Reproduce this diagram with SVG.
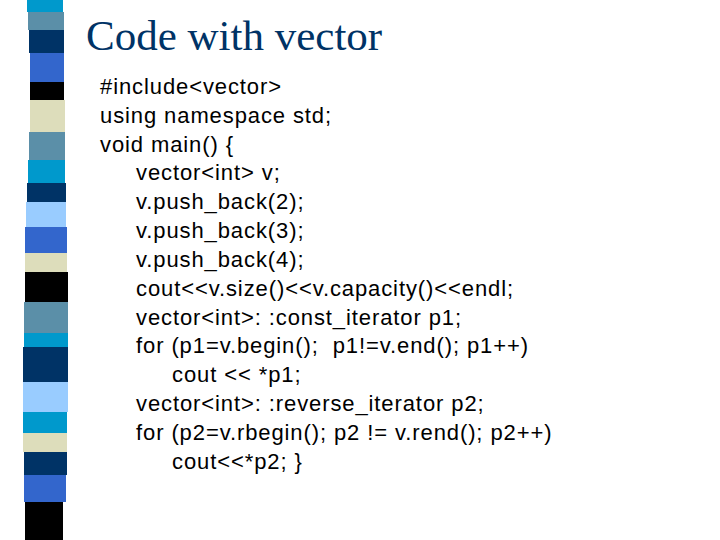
<svg xmlns="http://www.w3.org/2000/svg" width="720" height="540" viewBox="0 0 720 540">
<style>
.c{font-family:"Liberation Sans",Arial,sans-serif;font-size:22px;letter-spacing:0.9px;fill:#000;white-space:pre}
.t{font-family:"Liberation Serif","Times New Roman",serif;font-size:43px;fill:#003366}
</style>
<rect width="720" height="540" fill="#fff"/>
<g id="stripe">
<rect x="27" y="0" width="36" height="12" fill="#0099cc"/>
<rect x="28" y="12" width="36" height="18" fill="#5b8fa8"/>
<rect x="29" y="30" width="35" height="23" fill="#003366"/>
<rect x="30" y="53" width="34" height="29" fill="#3366cc"/>
<rect x="30" y="82" width="34" height="18" fill="#000"/>
<rect x="30" y="100" width="35" height="32" fill="#ddddbb"/>
<rect x="29" y="132" width="36" height="28" fill="#5b8fa8"/>
<rect x="28" y="160" width="37" height="23" fill="#0099cc"/>
<rect x="27" y="183" width="39" height="19" fill="#003366"/>
<rect x="26" y="202" width="40" height="25" fill="#99ccff"/>
<rect x="25" y="227" width="42" height="26" fill="#3366cc"/>
<rect x="25" y="253" width="42" height="19" fill="#ddddbb"/>
<rect x="25" y="272" width="43" height="30" fill="#000"/>
<rect x="24" y="302" width="44" height="31" fill="#5b8fa8"/>
<rect x="24" y="333" width="44" height="14" fill="#0099cc"/>
<rect x="23" y="347" width="45" height="35" fill="#003366"/>
<rect x="23" y="382" width="45" height="30" fill="#99ccff"/>
<rect x="23" y="412" width="44" height="21" fill="#0099cc"/>
<rect x="23" y="433" width="44" height="19" fill="#ddddbb"/>
<rect x="24" y="452" width="43" height="23" fill="#003366"/>
<rect x="24" y="475" width="42" height="27" fill="#3366cc"/>
<rect x="25" y="502" width="38" height="38" fill="#000"/>
</g>
<text class="t" x="86" y="50">Code with vector</text>
<g id="code">
<text class="c" x="100" y="94">#include&lt;vector&gt;</text>
<text class="c" x="100" y="123">using namespace std;</text>
<text class="c" x="100" y="152">void main() {</text>
<text class="c" x="136" y="180">vector&lt;int&gt; v;</text>
<text class="c" x="136" y="209">v.push_back(2);</text>
<text class="c" x="136" y="238">v.push_back(3);</text>
<text class="c" x="136" y="267">v.push_back(4);</text>
<text class="c" x="136" y="296">cout&lt;&lt;v.size()&lt;&lt;v.capacity()&lt;&lt;endl;</text>
<text class="c" x="136" y="325">vector&lt;int&gt;: :const_iterator p1;</text>
<text class="c" x="136" y="353">for (p1=v.begin();  p1!=v.end(); p1++)</text>
<text class="c" x="172" y="382">cout &lt;&lt; *p1;</text>
<text class="c" x="136" y="411">vector&lt;int&gt;: :reverse_iterator p2;</text>
<text class="c" x="136" y="440">for (p2=v.rbegin(); p2 != v.rend(); p2++)</text>
<text class="c" x="172" y="469">cout&lt;&lt;*p2; }</text>
</g>
</svg>
